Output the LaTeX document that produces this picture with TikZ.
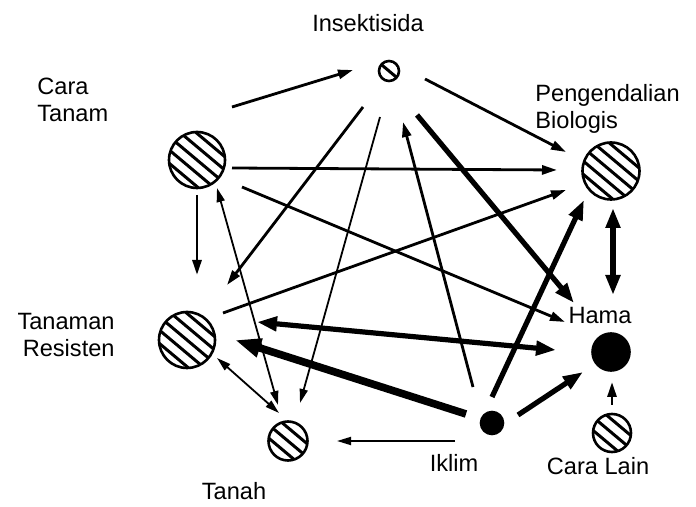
\documentclass[tikz,border=0pt]{standalone}
\usepackage{fontspec}
\setmainfont{Liberation Sans}
\usetikzlibrary{arrows.meta}

\begin{document}
\begin{tikzpicture}[x=0.5pt,y=-0.5pt,
factor/.style={circle,draw,line width=1.3pt,inner sep=0pt},
hatch/.style={path picture={
  \foreach \k in {#1}
    \draw[line width=1.5pt] ([shift={(50:\k*5.1pt)}]path picture bounding box.center) ++(140:20pt) -- ++(-40:40pt);}},
hatch/.default={-4,...,4},
dark/.style={fill=black},
factorlabel/.style={font=\fontsize{11.8}{13.5}\selectfont,inner sep=0pt},
weaklink/.style={>={Triangle[length=7pt,width=4pt]},line width=0.9pt},
link/.style={>={Triangle[length=7.5pt,width=4.5pt]},line width=1.4pt},
stronglink/.style={>={Triangle[length=10pt,width=7pt]},line width=2.6pt},
heavylink/.style={>={Triangle[length=13pt,width=9pt]},line width=3.8pt} ]

\useasboundingbox (0,0) rectangle (696,507);

\node[factor,hatch,minimum size=28pt](ct) at (197,160) {};
\node[factor,hatch=0,minimum size=10pt](ins) at (389,71) {};
\node[factor,hatch,minimum size=28.5pt](pb) at (611,171) {};
\node[factor,hatch,minimum size=28pt](tr) at (187,340) {};
\node[factor,dark,minimum size=18.5pt](hama) at (611,352) {};
\node[factor,hatch,minimum size=19.5pt](tanah) at (288,441) {};
\node[factor,dark,minimum size=11pt](iklim) at (492,423) {};
\node[factor,hatch,minimum size=19pt](lain) at (612,433) {};

% labels (base = last line)
\node[factorlabel,anchor=base](tins) at (368,32) {Insektisida};
\node[factorlabel,anchor=base west,align=left](tct) at (37,122) {Cara\\Tanam};
\node[factorlabel,anchor=base west,align=left](tpb) at (535,129) {Pengendalian\\Biologis};
\node[factorlabel,anchor=base east,align=right](ttr) at (115,357) {Tanaman\\Resisten};
\node[factorlabel,anchor=base](thama) at (600,324) {Hama};
\node[factorlabel,anchor=base](ttanah) at (234,500) {Tanah};
\node[factorlabel,anchor=base](tiklim) at (454,472) {Iklim};
\node[factorlabel,anchor=base](tlain) at (598,474) {Cara Lain};

\draw[link,->] ([shift={(35,-53)}]ct.center) -- ([shift={(-36,-1)}]ins.center);
\draw[link,->] ([shift={(36,8)}]ins.center) -- ([shift={(-45,-19)}]pb.center);
\draw[link,->] ([shift={(35,8)}]ct.center) -- ([shift={(-54,-1)}]pb.center);
\draw[link,->] ([shift={(45,27)}]ct.center) -- ([shift={(-46,-30)}]hama.center);
\draw[link,->] ([shift={(0,35)}]ct.center) -- ([shift={(10,-65)}]tr.center);
\draw[weaklink,<->] ([shift={(20,28)}]ct.center) -- ([shift={(-10,-36)}]tanah.center);

\draw[link,->] ([shift={(-26,36)}]ins.center) -- ([shift={(40,-55)}]tr.center);
\draw[weaklink,->] ([shift={(-9,46)}]ins.center) -- ([shift={(12,-38)}]tanah.center);
\draw[link,->] ([shift={(-19,-36)}]iklim.center) -- ([shift={(14,51)}]ins.center);
\draw[stronglink,->] ([shift={(28,44)}]ins.center) -- ([shift={(-37,-49)}]hama.center);

\draw[link,->] ([shift={(36,-27)}]tr.center) -- ([shift={(-45,19)}]pb.center);
\draw[stronglink,->] ([shift={(0,-26)}]iklim.center) -- ([shift={(-27,29)}]pb.center);
\draw[stronglink,<->] ([shift={(2,37)}]pb.center) -- ([shift={(2,-57)}]hama.center);

\draw[stronglink,<->] ([shift={(70,-18)}]tr.center) -- ([shift={(-55,-2)}]hama.center);
\draw[heavylink,->] ([shift={(-26,-9)}]iklim.center) -- ([shift={(48,0)}]tr.center);
\draw[weaklink,<->] ([shift={(30,18)}]tr.center) -- ([shift={(-9,-28)}]tanah.center);
\draw[weaklink,->] ([shift={(-37,18)}]iklim.center) -- ([shift={(49,0)}]tanah.center);
\draw[stronglink,->] ([shift={(26,-8)}]iklim.center) -- ([shift={(-28,20)}]hama.center);
\draw[link,->] ([shift={(0,-28)}]lain.center) -- ([shift={(1,30)}]hama.center);

\end{tikzpicture}
\end{document}
